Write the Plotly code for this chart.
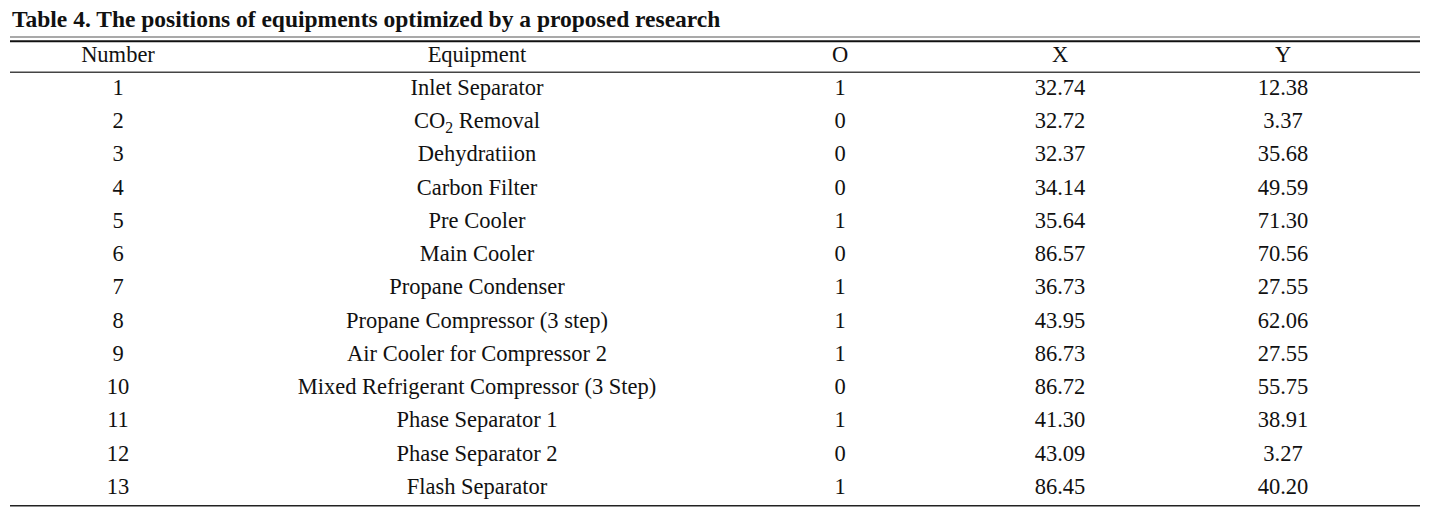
import plotly.graph_objects as go

title = "Table 4. The positions of equipments optimized by a proposed research"
headers = ["Number", "Equipment", "O", "X", "Y"]
numbers = [str(i) for i in range(1, 14)]
equipment = [
    "Inlet Separator", "CO<sub>2</sub> Removal", "Dehydratiion", "Carbon Filter",
    "Pre Cooler", "Main Cooler", "Propane Condenser", "Propane Compressor (3 step)",
    "Air Cooler for Compressor 2", "Mixed Refrigerant Compressor (3 Step)",
    "Phase Separator 1", "Phase Separator 2", "Flash Separator",
]
o_vals = [1, 0, 0, 0, 1, 0, 1, 1, 1, 0, 1, 0, 1]
x_vals = [32.74, 32.72, 32.37, 34.14, 35.64, 86.57, 36.73, 43.95, 86.73, 86.72, 41.30, 43.09, 86.45]
y_vals = [12.38, 3.37, 35.68, 49.59, 71.30, 70.56, 27.55, 62.06, 27.55, 55.75, 38.91, 3.27, 40.20]

col_x = [118, 477, 840, 1060, 1283]
FONT = "Liberation Serif, Times New Roman, serif"
FS = 22.5

columns = [
    numbers,
    equipment,
    [str(v) for v in o_vals],
    [f"{v:.2f}" for v in x_vals],
    [f"{v:.2f}" for v in y_vals],
]

fig = go.Figure()
rows = list(range(1, 14))
for cx, h, col in zip(col_x, headers, columns):
    fig.add_trace(go.Scatter(
        x=[cx] * 14, y=[0] + rows, text=[h] + col, mode="text",
        textposition="middle center",
        textfont=dict(family=FONT, size=FS, color="#111111"),
        hoverinfo="skip", showlegend=False,
    ))

# page offset of the plot div (default body margin)
OFF = 8

# row index -> pixel: y_pix = 56 + 33.25*i
def r(p):
    return (p - 56) / 33.25

line_defs = [(37, 1.2, "#555555"), (41.3, 2, "#111111"), (72.3, 1.6, "#444444"), (505.7, 1.6, "#222222")]
for yp, w, c in line_defs:
    fig.add_shape(type="line", xref="x", yref="y", x0=10, x1=1420, y0=r(yp), y1=r(yp),
                  line=dict(color=c, width=w))

fig.add_annotation(text="<b>" + title + "</b>", xref="x", yref="y", x=10, y=r(19),
                   xanchor="left", yanchor="middle", showarrow=False,
                   font=dict(family=FONT, size=23.5, color="#111111"))

fig.update_xaxes(range=[OFF, 1439 + OFF], visible=False, fixedrange=True)
fig.update_yaxes(range=[r(508 + OFF), r(OFF)], visible=False, fixedrange=True)
fig.update_layout(width=1439, height=508, margin=dict(l=0, r=0, t=0, b=0),
                  plot_bgcolor="white", paper_bgcolor="white")
fig.write_html("out.html")
